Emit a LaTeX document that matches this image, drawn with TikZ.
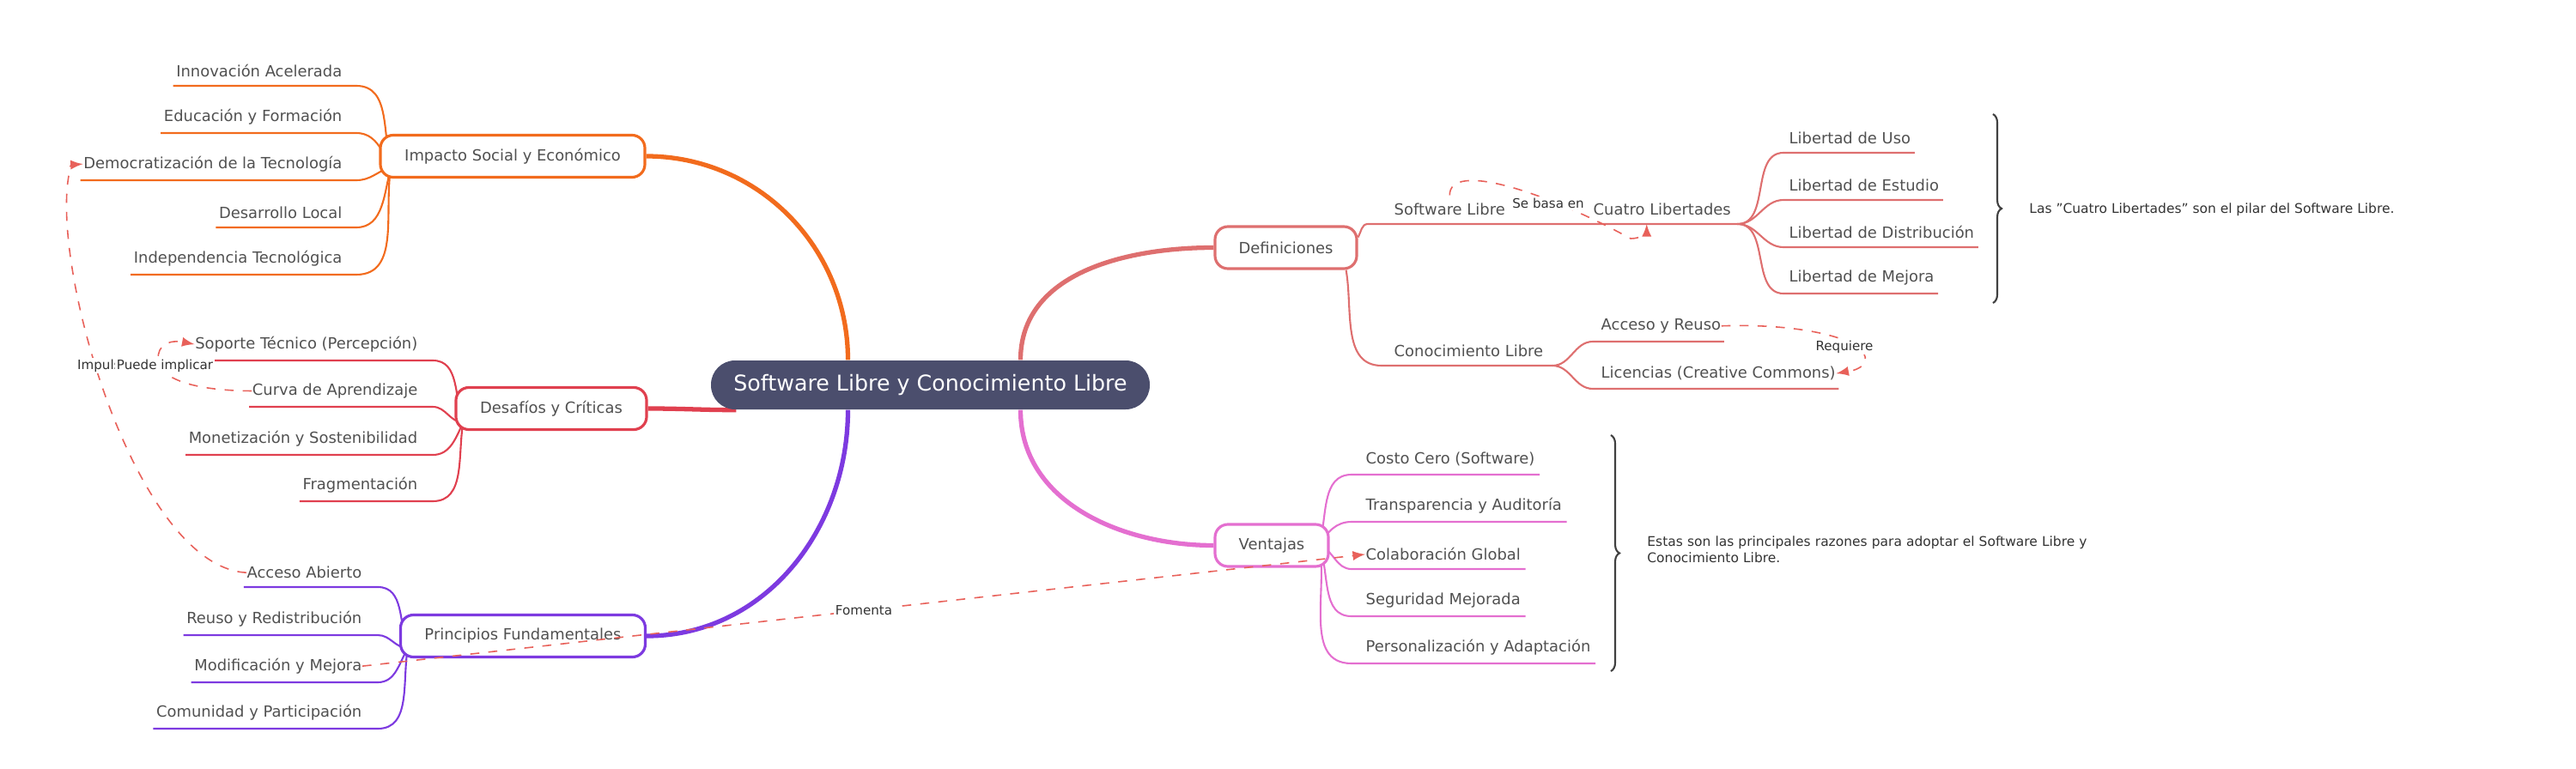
\documentclass[tikz,border=0pt]{standalone}
\usepackage{fontspec}
\setmainfont{DejaVu Sans}
\usetikzlibrary{positioning,decorations.pathreplacing,backgrounds}

\definecolor{cOrange}{HTML}{F26B1D}
\definecolor{cRed}{HTML}{E0404F}
\definecolor{cPurple}{HTML}{7D3AE0}
\definecolor{cSalmon}{HTML}{DE6F6F}
\definecolor{cPink}{HTML}{E46FD0}
\definecolor{cTitle}{HTML}{4B4E6D}
\definecolor{cText}{HTML}{505050}
\definecolor{cRel}{HTML}{E8615A}

\begin{document}
\begin{tikzpicture}[
  x=1cm, y=1cm,
  title/.style={rectangle, rounded corners=0.28cm, fill=cTitle, text=white,
    font=\fontsize{7.2}{8.5}\selectfont, minimum height=0.57cm, minimum width=5.11cm},
  topic/.style={rectangle, rounded corners=0.15cm, draw, line width=0.9pt, fill=white,
    text=cText, font=\fontsize{5.1}{6}\selectfont, minimum height=0.49cm, inner xsep=0.26cm},
  leaf/.style={text=cText, font=\fontsize{5.1}{6}\selectfont, inner xsep=0pt, inner ysep=2.6pt},
  branch/.style={line width=1.5pt},
  twig/.style={line width=0.6pt},
  rel/.style={cRel, dashed, line width=0.45pt, -latex},
  rellabel/.style={text=black!80, font=\fontsize{4.3}{5}\selectfont, fill=white, inner sep=0.5pt},
  note/.style={text=black!80, font=\fontsize{4.4}{5.5}\selectfont, anchor=west},
  bracket/.style={draw=black!75, line width=0.6pt, decorate,
    decoration={brace, amplitude=0.1cm}}
  ]
\useasboundingbox (0,0) rectangle (30,-8.95);

% central topic and main topics
\node [title] (main) at (10.835,-4.485) {Software Libre y Conocimiento Libre};
\node [topic, draw=cOrange, minimum width=3.08cm] (impacto) at (5.97,-1.82) {Impacto Social y Económico};
\node [topic, draw=cRed, minimum width=2.22cm] (desafios) at (6.42,-4.76) {Desafíos y Críticas};
\node [topic, draw=cPurple, minimum width=2.85cm] (principios) at (6.09,-7.41) {Principios Fundamentales};
\node [topic, draw=cSalmon, minimum width=1.65cm] (definiciones) at (14.975,-2.885) {Definiciones};
\node [topic, draw=cPink, minimum width=1.32cm] (ventajas) at (14.81,-6.355) {Ventajas};

\begin{pgfonlayer}{background}
\draw [branch, cOrange] ([xshift=-0.96cm]main.north) to[out=90,in=0] (impacto.east);
\draw [branch, cRed] ([xshift=0.3cm]main.south west) to[out=180,in=0] (desafios.east);
\draw [branch, cPurple] ([xshift=-0.96cm]main.south) to[out=-90,in=0] (principios.east);
\draw [branch, cSalmon] ([xshift=1.05cm]main.north) to[out=90,in=180] (definiciones.west);
\draw [branch, cPink] ([xshift=1.05cm]main.south) to[out=-90,in=180] (ventajas.west);
\end{pgfonlayer}

% Impacto Social y Economico
\foreach \name/\y/\a/\txt in {innov/1.00/105/Innovación Acelerada, educ/1.55/120/Educación y Formación,
    democ/2.10/200/Democratización de la Tecnología, desarr/2.65/-105/Desarrollo Local,
    indep/3.20/-100/Independencia Tecnológica}{
  \node [leaf, anchor=south east] (\name) at (3.99,-\y) {\txt};
  \begin{pgfonlayer}{background}
  \draw [twig, cOrange] ([xshift=-0.03cm]\name.south west) -- ([xshift=0.16cm]\name.south east)
    to[out=0,in=\a] ([shift={(0.14,0.14)}]impacto.south west);
  \end{pgfonlayer}
}

% Desafios y Criticas
\foreach \name/\y/\a/\txt in {soporte/4.20/110/Soporte Técnico (Percepción), curva/4.74/180/Curva de Aprendizaje,
    monet/5.30/-115/Monetización y Sostenibilidad, frag/5.84/-100/Fragmentación}{
  \node [leaf, anchor=south east] (\name) at (4.87,-\y) {\txt};
  \begin{pgfonlayer}{background}
  \draw [twig, cRed] ([xshift=-0.03cm]\name.south west) -- ([xshift=0.17cm]\name.south east)
    to[out=0,in=\a] ([shift={(0.1,0.1)}]desafios.south west);
  \end{pgfonlayer}
}

% Principios Fundamentales
\foreach \name/\y/\a/\txt in {acab/6.84/110/Acceso Abierto, reuso/7.40/180/Reuso y Redistribución,
    modif/7.95/-120/Modificación y Mejora, comun/8.49/-100/Comunidad y Participación}{
  \node [leaf, anchor=south east] (\name) at (4.22,-\y) {\txt};
  \begin{pgfonlayer}{background}
  \draw [twig, cPurple] ([xshift=-0.03cm]\name.south west) -- ([xshift=0.18cm]\name.south east)
    to[out=0,in=\a] ([shift={(0.1,0.12)}]principios.south west);
  \end{pgfonlayer}
}

% Definiciones
\node [leaf, anchor=south west] (sl) at (16.23,-2.61) {Software Libre};
\node [leaf, anchor=south west] (cuatro) at (18.55,-2.61) {Cuatro Libertades};
\node [leaf, anchor=south west] (cl) at (16.23,-4.26) {Conocimiento Libre};
\draw [twig, cSalmon] ([yshift=0.12cm]definiciones.east) to[out=60,in=180] ([xshift=-0.30cm]sl.south west)
  -- ([xshift=0.07cm]cuatro.south east);
\draw [twig, cSalmon] ([xshift=-0.14cm]definiciones.south east) to[out=-80,in=180]
  ([xshift=-0.14cm]cl.south west) -- ([xshift=0.1cm]cl.south east);

\foreach \name/\y/\txt in {uso/1.78/Libertad de Uso, estudio/2.33/Libertad de Estudio,
    distrib/2.88/Libertad de Distribución, mejora/3.42/Libertad de Mejora}{
  \node [leaf, anchor=south west] (\name) at (20.83,-\y) {\txt};
  \draw [twig, cSalmon] ([xshift=0.07cm]cuatro.south east) to[out=0,in=180]
    ([xshift=-0.06cm]\name.south west) -- ([xshift=0.04cm]\name.south east);
}

\foreach \name/\y/\txt in {acc/3.98/Acceso y Reuso, lic/4.53/Licencias (Creative Commons)}{
  \node [leaf, anchor=south west] (\name) at (18.64,-\y) {\txt};
  \draw [twig, cSalmon] ([xshift=0.1cm]cl.south east) to[out=0,in=180]
    ([xshift=-0.09cm]\name.south west) -- ([xshift=0.03cm]\name.south east);
}

% Ventajas
\foreach \name/\y/\o/\txt in {costo/5.53/75/Costo Cero (Software), transp/6.08/60/Transparencia y Auditoría,
    colab/6.63/-20/Colaboración Global, segur/7.18/-70/Seguridad Mejorada,
    perso/7.73/-80/Personalización y Adaptación}{
  \node [leaf, anchor=south west] (\name) at (15.90,-\y) {\txt};
  \begin{pgfonlayer}{background}
  \draw [twig, cPink] ([xshift=-0.12cm]ventajas.east) to[out=\o,in=180]
    ([xshift=-0.16cm]\name.south west) -- ([xshift=0.05cm]\name.south east);
  \end{pgfonlayer}
}

% summaries
\draw [bracket] (23.21,-1.33) -- (23.21,-3.53);
\node [note] (notelib) at (23.51,-2.44) {Las "Cuatro Libertades" son el pilar del Software Libre.};
\draw [bracket] (18.76,-5.07) -- (18.76,-7.82);
\node [note, text width=6.1cm, align=left] (notevent) at (19.06,-6.40)
  {Estas son las principales razones para adoptar el Software Libre y Conocimiento Libre.};

% relationships
\draw [rel] (sl.north) .. controls +(0,0.4) and +(-1.0,0.55) .. (18.99,-2.78)
  .. controls +(0.12,0) and +(0,-0.1) .. ([xshift=-0.18cm]cuatro.south);
\node [rellabel] (lbasa) at (18.03,-2.37) {Se basa en};

\draw [rel] (acc.east) .. controls (21.1,-3.76) and (21.9,-4.0) .. (21.69,-4.26)
  .. controls (21.6,-4.33) and (21.5,-4.33) .. (lic.east);
\node [rellabel] (lreq) at (21.48,-4.04) {Requiere};

\draw [rel] (acab.west) .. controls (1.6,-6.6) and (0.6,-3.2) .. (0.80,-2.05)
  .. controls (0.82,-1.92) .. (democ.west);
\node [rellabel] (limp) at (1.20,-4.26) {Impulsa};

\draw [rel] (curva.west) .. controls (2.1,-4.55) and (1.75,-4.35) .. (1.86,-4.08)
  .. controls (1.92,-3.97) and (2.05,-3.97) .. (soporte.west);
\node [rellabel] (limpl) at (1.92,-4.26) {Puede implicar};

\draw [rel] (modif.east) -- (colab.west) node [rellabel, pos=0.5] (lfom) {Fomenta};

\end{tikzpicture}
\end{document}
